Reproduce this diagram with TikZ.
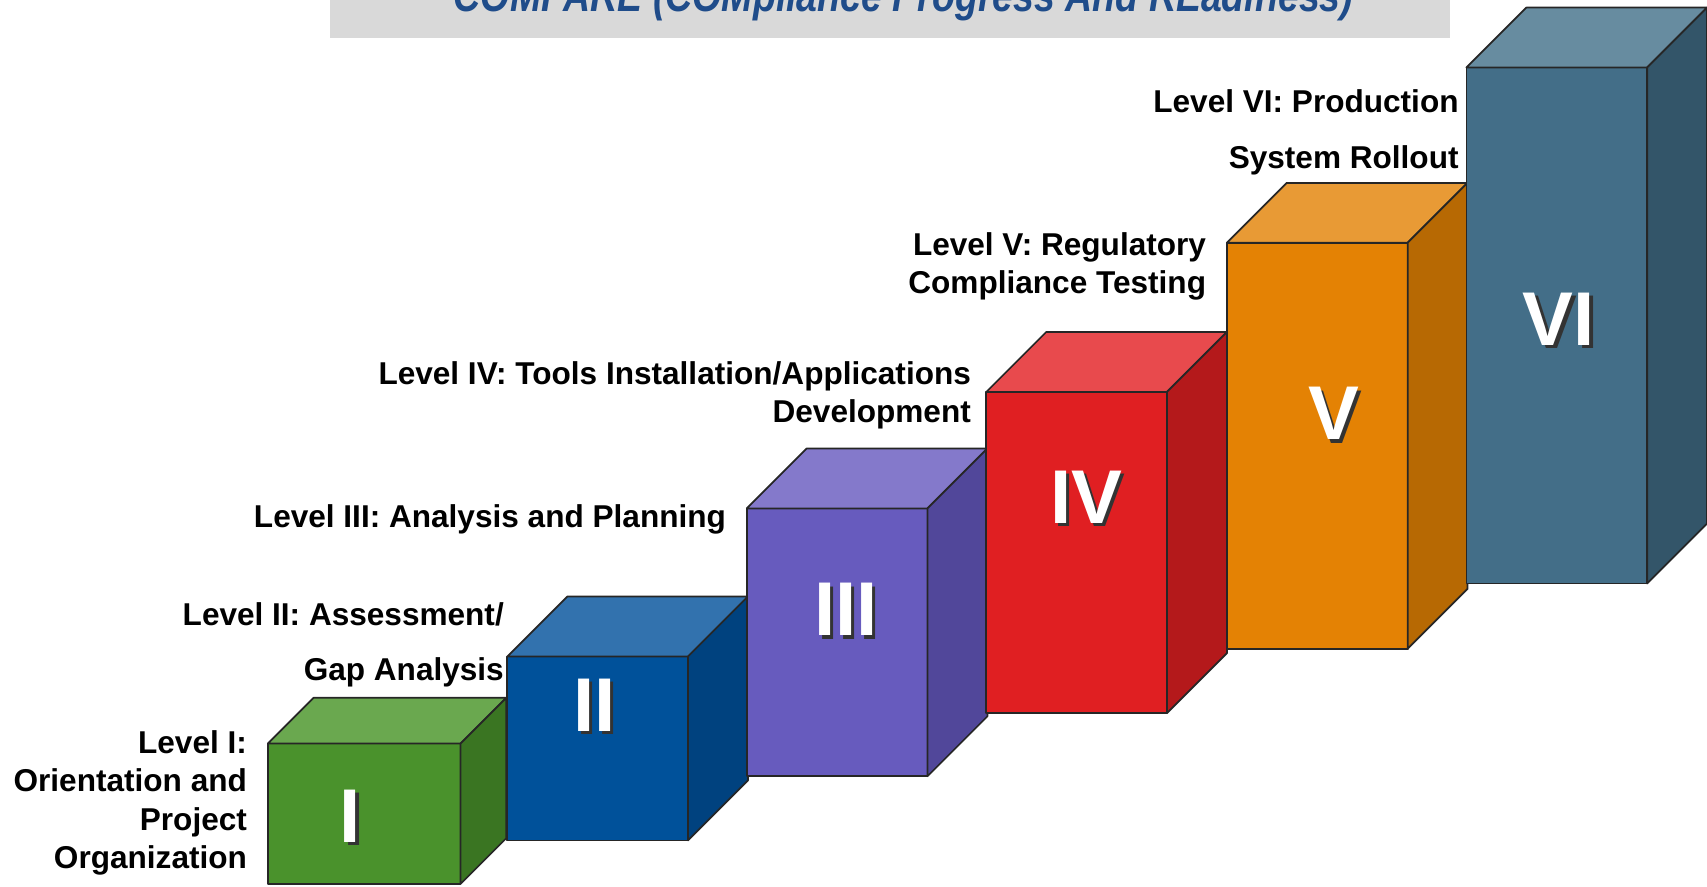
\documentclass[tikz,border=0pt]{standalone}
\usepackage{graphicx}
\usepackage{fontspec}
\setmainfont{Liberation Sans}
\usepackage{tikz}
\usetikzlibrary{calc}

\definecolor{titleBlue}{HTML}{1F4C8A}
\definecolor{titleGray}{HTML}{D9D9D9}
\definecolor{greenFront}{HTML}{4A922C}
\definecolor{greenTop}{HTML}{6AA84F}
\definecolor{greenSide}{HTML}{3A7522}
\definecolor{blueFront}{HTML}{00519A}
\definecolor{blueTop}{HTML}{3272AE}
\definecolor{blueSide}{HTML}{00427F}
\definecolor{purpleFront}{HTML}{675BBE}
\definecolor{purpleTop}{HTML}{8479CB}
\definecolor{purpleSide}{HTML}{51479A}
\definecolor{redFront}{HTML}{E01F22}
\definecolor{redTop}{HTML}{E84A4D}
\definecolor{redSide}{HTML}{B4191B}
\definecolor{orangeFront}{HTML}{E48204}
\definecolor{orangeTop}{HTML}{E89A35}
\definecolor{orangeSide}{HTML}{B76903}
\definecolor{slateFront}{HTML}{436E88}
\definecolor{slateTop}{HTML}{678CA0}
\definecolor{slateSide}{HTML}{335569}

\begin{document}
\begin{tikzpicture}[x=1pt, y=1pt,
    face/.style={draw=black!85, line width=1.6pt, line join=round},
    front/.style={face, rectangle, inner sep=0pt, outer sep=0pt, anchor=south west},
    label/.style={font=\fontsize{29}{35}\selectfont\bfseries, align=right, anchor=east, inner sep=0pt},
    numeral/.style={font=\fontsize{70}{70}\selectfont\bfseries, text=white, inner sep=0pt},
    numshadow/.style={numeral, text=black!80}]
    \useasboundingbox (0,0) rectangle (1568,814);
    \clip (0,0) rectangle (1568,814);

    % title band, cut by the top edge
    \fill[titleGray] (303,779) rectangle (1332,830);
    \node[anchor=base, inner sep=0pt, text=titleBlue, font=\fontsize{42}{42}\selectfont\bfseries\itshape] (title) at (830,803)
        {\scalebox{0.82}[1]{COMPARE (COMpliance Progress And REadiness)}};

    % level I
    \node[front, fill=greenFront, minimum width=177, minimum height=129] (b1) at (246,2) {};
    \draw[face, fill=greenTop] (b1.north west) -- ++(42,42) -- ++(177,0) -- (b1.north east) -- cycle;
    \draw[face, fill=greenSide] (b1.north east) -- ++(42,42) -- ++(0,-129) -- (b1.south east) -- cycle;

    % level II
    \node[front, fill=blueFront, minimum width=166, minimum height=169] (b2) at (466,42) {};
    \draw[face, fill=blueTop] (b2.north west) -- ++(55,55) -- ++(166,0) -- (b2.north east) -- cycle;
    \draw[face, fill=blueSide] (b2.north east) -- ++(55,55) -- ++(0,-169) -- (b2.south east) -- cycle;

    % level III
    \node[front, fill=purpleFront, minimum width=166, minimum height=246] (b3) at (686,101) {};
    \draw[face, fill=purpleTop] (b3.north west) -- ++(55,55) -- ++(166,0) -- (b3.north east) -- cycle;
    \draw[face, fill=purpleSide] (b3.north east) -- ++(55,55) -- ++(0,-246) -- (b3.south east) -- cycle;

    % level IV
    \node[front, fill=redFront, minimum width=166, minimum height=295] (b4) at (906,159) {};
    \draw[face, fill=redTop] (b4.north west) -- ++(55,55) -- ++(166,0) -- (b4.north east) -- cycle;
    \draw[face, fill=redSide] (b4.north east) -- ++(55,55) -- ++(0,-295) -- (b4.south east) -- cycle;

    % level V
    \node[front, fill=orangeFront, minimum width=166, minimum height=373] (b5) at (1127,218) {};
    \draw[face, fill=orangeTop] (b5.north west) -- ++(55,55) -- ++(166,0) -- (b5.north east) -- cycle;
    \draw[face, fill=orangeSide] (b5.north east) -- ++(55,55) -- ++(0,-373) -- (b5.south east) -- cycle;

    % level VI
    \node[front, fill=slateFront, minimum width=166, minimum height=474] (b6) at (1347,278) {};
    \draw[face, fill=slateTop] (b6.north west) -- ++(55,55) -- ++(166,0) -- (b6.north east) -- cycle;
    \draw[face, fill=slateSide] (b6.north east) -- ++(55,55) -- ++(0,-474) -- (b6.south east) -- cycle;

    % numerals with their shadows
    \node[numshadow] (s1) at (325,61) {I};
    \node[numeral] (n1) at (322,64) {I};
    \node[numshadow] (s2) at (549,163) {II};
    \node[numeral] (n2) at (546,166) {II};
    \node[numshadow] (s3) at (780,251) {III};
    \node[numeral] (n3) at (777,254) {III};
    \node[numshadow] (s4) at (1001,354) {IV};
    \node[numeral] (n4) at (998,357) {IV};
    \node[numshadow] (s5) at (1228,431) {V};
    \node[numeral] (n5) at (1225,434) {V};
    \node[numshadow] (s6) at (1435,518) {VI};
    \node[numeral] (n6) at (1432,521) {VI};

    % level captions
    \node[label] (l1) at (227,76.5) {Level I:\\Orientation and\\Project\\Organization};
    \node[label] (l2) at (463,221.5) {Level II: Assessment/\\[16pt]Gap Analysis};
    \node[label] (l3) at (667,337) {Level III: Analysis and Planning};
    \node[label] (l4) at (892,450.5) {Level IV: Tools Installation/Applications\\Development};
    \node[label] (l5) at (1108,569.5) {Level V: Regulatory\\Compliance Testing};
    \node[label] (l6) at (1340,692.5) {Level VI: Production\\[16pt]System Rollout};
\end{tikzpicture}
\end{document}
